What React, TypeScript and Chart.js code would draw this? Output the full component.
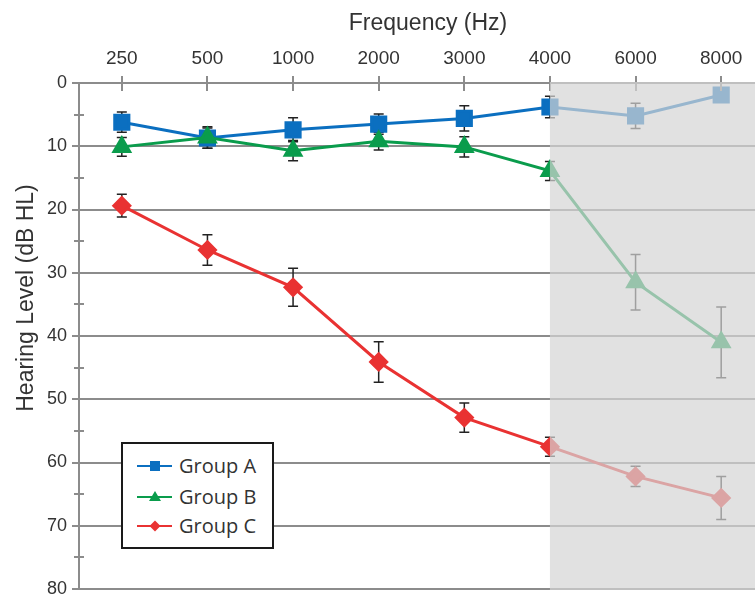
import React, { useEffect, useRef } from 'react';
import { Chart, registerables } from 'chart.js';

Chart.register(...registerables);

const frequencies = ['250', '500', '1000', '2000', '3000', '4000', '6000', '8000'];
const groupA = [6.2, 8.7, 7.4, 6.5, 5.6, 3.8, 5.2, 1.9];
const groupAErr = [1.6, 1.6, 1.9, 1.6, 2.0, 1.7, 2.0, 0.7];
const groupB = [10.1, 8.6, 10.7, 9.2, 10.1, 13.9, 31.5, 41.0];
const groupBErr = [1.5, 1.7, 1.6, 1.4, 1.6, 1.5, 4.4, 5.6];
const groupC = [19.4, 26.4, 32.3, 44.1, 52.9, 57.5, 62.2, 65.6];
const groupCErr = [1.8, 2.4, 3.0, 3.2, 2.3, 1.5, 1.6, 3.4];
const yMajorTicks = [0, 10, 20, 30, 40, 50, 60, 70, 80];
const yMinorTicks = [5, 15, 25, 35, 45, 55, 65, 75];
const shadedFrom = '4000';
const xTitle = 'Frequency (Hz)';
const yTitle = 'Hearing Level (dB HL)';
const seriesLabels = ['Group A', 'Group B', 'Group C'];

const BLUE = '#0b6fc0';
const GREEN = '#0a9c4c';
const RED = '#e93232';
const AXIS = '#8c8c8c';
const TEXT = '#333333';
const FONT = '"Liberation Sans", Arial, sans-serif';

const errorBarPlugin = {
  id: 'errorBars',
  beforeDatasetsDraw(chart: any) {
    const ctx = chart.ctx;
    const yScale = chart.scales.y;
    ctx.save();
    ctx.strokeStyle = '#222';
    ctx.lineWidth = 1.5;
    chart.data.datasets.forEach((ds: any, i: number) => {
      const meta = chart.getDatasetMeta(i);
      if (!ds.errors) return;
      meta.data.forEach((pt: any, j: number) => {
        const v = ds.data[j];
        const e = ds.errors[j];
        const yt = yScale.getPixelForValue(v - e);
        const yb = yScale.getPixelForValue(v + e);
        const x = pt.x;
        ctx.beginPath();
        ctx.moveTo(x, yt);
        ctx.lineTo(x, yb);
        ctx.moveTo(x - 5, yt);
        ctx.lineTo(x + 5, yt);
        ctx.moveTo(x - 5, yb);
        ctx.lineTo(x + 5, yb);
        ctx.stroke();
      });
    });
    ctx.restore();
  },
};

const decorPlugin = {
  id: 'decor',
  afterDraw(chart: any) {
    const ctx = chart.ctx;
    const xs = chart.scales.x;
    const ys = chart.scales.y;
    const area = chart.chartArea;
    ctx.save();
    // axis tick marks
    ctx.strokeStyle = AXIS;
    ctx.lineWidth = 2;
    ctx.beginPath();
    frequencies.forEach((_, i) => {
      const x = Math.round(xs.getPixelForValue(i));
      ctx.moveTo(x, area.top - 7);
      ctx.lineTo(x, area.top + 8);
    });
    yMajorTicks.forEach((v) => {
      const y = Math.round(ys.getPixelForValue(v));
      ctx.moveTo(area.left - 7, y);
      ctx.lineTo(area.left, y);
    });
    yMinorTicks.forEach((v) => {
      const y = Math.round(ys.getPixelForValue(v));
      ctx.moveTo(area.left - 5, y);
      ctx.lineTo(area.left + 5, y);
    });
    ctx.stroke();

    // titles
    ctx.fillStyle = TEXT;
    ctx.font = `23px ${FONT}`;
    ctx.textAlign = 'center';
    ctx.textBaseline = 'alphabetic';
    ctx.fillText(xTitle, 428, 30);
    ctx.save();
    ctx.translate(33, 298);
    ctx.rotate(-Math.PI / 2);
    ctx.fillText(yTitle, 0, 0);
    ctx.restore();

    // shaded overlay
    const sx = xs.getPixelForValue(frequencies.indexOf(shadedFrom));
    ctx.fillStyle = 'rgba(212,212,212,0.7)';
    ctx.fillRect(sx, area.top - 1, area.right - sx, area.bottom - area.top + 2);
    ctx.restore();
  },
};

function LegendMarker({ kind, color }: { kind: string; color: string }) {
  let marker: any = null;
  if (kind === 'rect') marker = <rect x={13} y={10} width={10} height={10} fill={color} />;
  if (kind === 'triangle') marker = <polygon points="18,9 24,19 12,19" fill={color} />;
  if (kind === 'rectRot') marker = <polygon points="18,9.5 23.5,15 18,20.5 12.5,15" fill={color} />;
  return (
    <svg width={35} height={30} style={{ display: 'block' }}>
      <line x1={0} y1={15} x2={35} y2={15} stroke={color} strokeWidth={2} />
      {marker}
    </svg>
  );
}

export default function App() {
  const canvasRef = useRef<HTMLCanvasElement | null>(null);

  useEffect(() => {
    if (!canvasRef.current) return;
    const chart = new Chart(canvasRef.current, {
      type: 'line',
      data: {
        labels: frequencies,
        datasets: [
          {
            label: seriesLabels[0],
            data: groupA,
            errors: groupAErr,
            borderColor: BLUE,
            backgroundColor: BLUE,
            pointBackgroundColor: BLUE,
            pointBorderColor: BLUE,
            pointStyle: 'rect',
            pointRadius: 10,
            borderWidth: 3,
            tension: 0,
            order: 1,
          } as any,
          {
            label: seriesLabels[1],
            data: groupB,
            errors: groupBErr,
            borderColor: GREEN,
            backgroundColor: GREEN,
            pointBackgroundColor: GREEN,
            pointBorderColor: GREEN,
            pointStyle: 'triangle',
            pointRadius: 9,
            borderWidth: 3,
            tension: 0,
            order: 0,
          } as any,
          {
            label: seriesLabels[2],
            data: groupC,
            errors: groupCErr,
            borderColor: RED,
            backgroundColor: RED,
            pointBackgroundColor: RED,
            pointBorderColor: RED,
            pointStyle: 'rectRot',
            pointRadius: 8,
            borderWidth: 3,
            tension: 0,
            order: 2,
          } as any,
        ],
      },
      options: {
        animation: false,
        responsive: false,
        devicePixelRatio: 1,
        layout: { autoPadding: false, padding: { top: 0, left: 0, right: 0, bottom: 7 } },
        plugins: {
          legend: { display: false },
          tooltip: { enabled: false },
          title: { display: false },
        },
        scales: {
          x: {
            type: 'category',
            position: 'top',
            offset: true,
            ticks: {
              font: { family: FONT, size: 19 },
              color: TEXT,
              padding: 13,
              maxRotation: 0,
              autoSkip: false,
            },
            grid: { drawOnChartArea: false, drawTicks: false },
            border: { color: AXIS, width: 2 },
            afterFit: (s: any) => {
              s.height = 83;
              s.paddingLeft = 0;
              s.paddingRight = 0;
            },
          },
          y: {
            reverse: true,
            min: 0,
            max: 80,
            afterBuildTicks: (s: any) => {
              s.ticks = yMajorTicks.map((v) => ({ value: v }));
            },
            ticks: {
              font: { family: FONT, size: 18 },
              color: TEXT,
              padding: 12,
            },
            grid: { color: AXIS, lineWidth: 2, drawTicks: false },
            border: { color: AXIS, width: 2 },
            afterFit: (s: any) => {
              s.width = 79;
              s.paddingTop = 0;
              s.paddingBottom = 0;
            },
          },
        },
      } as any,
      plugins: [errorBarPlugin, decorPlugin],
    });
    return () => chart.destroy();
  }, []);

  const legendItems = [
    { label: seriesLabels[0], color: BLUE, kind: 'rect', top: 7 },
    { label: seriesLabels[1], color: GREEN, kind: 'triangle', top: 38 },
    { label: seriesLabels[2], color: RED, kind: 'rectRot', top: 67 },
  ];

  return (
    <div
      style={{
        position: 'fixed',
        left: 0,
        top: 0,
        width: 755,
        height: 596,
        overflow: 'hidden',
        background: '#fff',
      }}
    >
      <canvas ref={canvasRef} width={764} height={596} style={{ display: 'block' }} />
      <div
        style={{
          position: 'absolute',
          left: 121,
          top: 442,
          width: 153,
          height: 107,
          border: '2px solid #1a1a1a',
          background: '#fff',
          boxSizing: 'border-box',
        }}
      >
        {legendItems.map((it) => (
          <div
            key={it.label}
            style={{
              position: 'absolute',
              left: 14,
              top: it.top,
              height: 30,
              display: 'flex',
              alignItems: 'center',
              whiteSpace: 'nowrap',
            }}
          >
            <LegendMarker kind={it.kind} color={it.color} />
            <span
              style={{
                marginLeft: 7,
                fontFamily: '"Open Sans", "Noto Sans", sans-serif',
                fontSize: 20,
                lineHeight: '30px',
                color: TEXT,
              }}
            >
              {it.label}
            </span>
          </div>
        ))}
      </div>
    </div>
  );
}
